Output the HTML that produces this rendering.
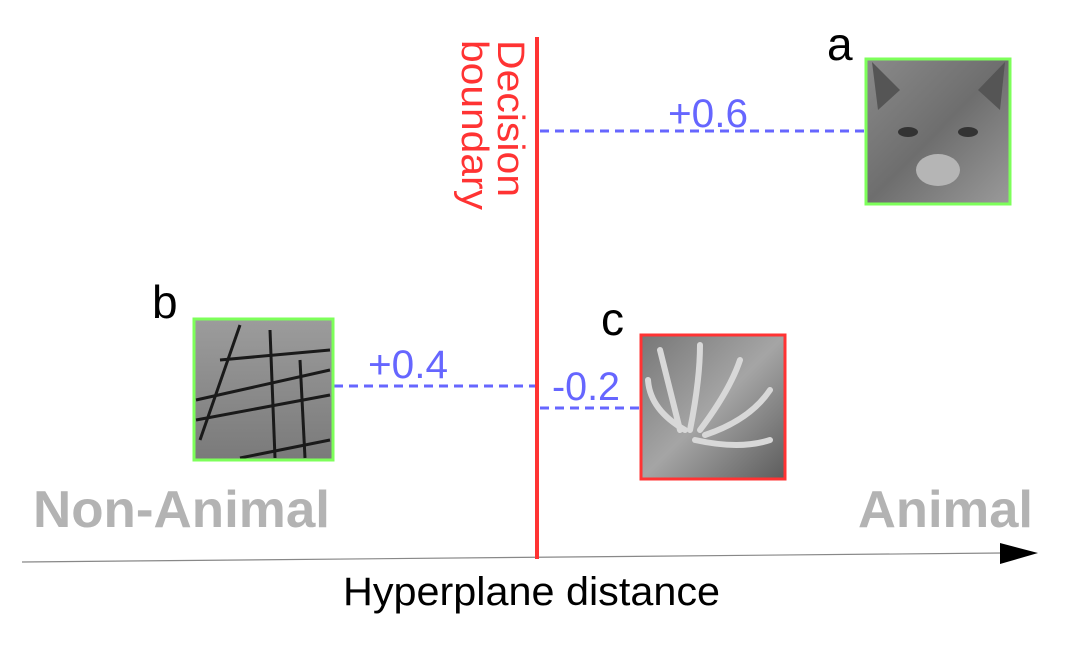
<!DOCTYPE html>
<html>
<head>
<meta charset="utf-8">
<style>
  html,body{margin:0;padding:0;background:#fff;}
  svg{display:block;}
  text{font-family:"Liberation Sans",sans-serif;}
</style>
</head>
<body>
<svg width="1076" height="648" viewBox="0 0 1076 648">
  <defs>
    <linearGradient id="gA" x1="0" y1="0" x2="1" y2="1">
      <stop offset="0" stop-color="#8a8a8a"/><stop offset="0.5" stop-color="#6e6e6e"/><stop offset="1" stop-color="#9a9a9a"/>
    </linearGradient>
    <linearGradient id="gB" x1="0" y1="0" x2="0" y2="1">
      <stop offset="0" stop-color="#9c9c9c"/><stop offset="1" stop-color="#7a7a7a"/>
    </linearGradient>
    <linearGradient id="gC" x1="0" y1="0" x2="1" y2="1">
      <stop offset="0" stop-color="#777"/><stop offset="0.5" stop-color="#a5a5a5"/><stop offset="1" stop-color="#5c5c5c"/>
    </linearGradient>
  </defs>

  <line x1="22" y1="562" x2="1002" y2="553" stroke="#888" stroke-width="1.2"/>
  <polygon points="1000,543 1038,553 1000,564" fill="#000"/>
  <text x="343" y="605" font-size="40" textLength="377" lengthAdjust="spacingAndGlyphs" fill="#000">Hyperplane distance</text>

  <text x="33" y="527" font-size="52" font-weight="bold" textLength="297" lengthAdjust="spacingAndGlyphs" fill="#b3b3b3">Non-Animal</text>
  <text x="858" y="527" font-size="52" font-weight="bold" textLength="175" lengthAdjust="spacingAndGlyphs" fill="#b3b3b3">Animal</text>

  <line x1="537" y1="37" x2="537" y2="559" stroke="#ff3333" stroke-width="4"/>
  <g transform="translate(498,40) rotate(90)">
    <text x="0" y="0" font-size="38" textLength="157" lengthAdjust="spacingAndGlyphs" fill="#ff3333">Decision</text>
    <text x="0" y="36" font-size="38" textLength="170" lengthAdjust="spacingAndGlyphs" fill="#ff3333">boundary</text>
  </g>

  <line x1="540" y1="131" x2="865" y2="131" stroke="#6666ff" stroke-width="3" stroke-dasharray="9,6"/>
  <text x="668" y="127" font-size="40" textLength="80" lengthAdjust="spacingAndGlyphs" fill="#6666ff">+0.6</text>
  <line x1="334" y1="386" x2="535" y2="386" stroke="#6666ff" stroke-width="3" stroke-dasharray="9,6"/>
  <text x="368" y="378" font-size="40" textLength="80" lengthAdjust="spacingAndGlyphs" fill="#6666ff">+0.4</text>
  <line x1="540" y1="408" x2="640" y2="408" stroke="#6666ff" stroke-width="3" stroke-dasharray="9,6"/>
  <text x="552" y="400" font-size="40" textLength="68" lengthAdjust="spacingAndGlyphs" fill="#6666ff">-0.2</text>

  <g>
    <rect x="866" y="59" width="144" height="145" fill="url(#gA)"/>
    <polygon points="872,62 900,90 878,110" fill="#555"/>
    <polygon points="1005,62 978,90 1000,110" fill="#555"/>
    <ellipse cx="908" cy="132" rx="10" ry="5" fill="#333"/>
    <ellipse cx="968" cy="132" rx="10" ry="5" fill="#333"/>
    <ellipse cx="938" cy="170" rx="22" ry="16" fill="#b5b5b5"/>
    <rect x="866" y="59" width="144" height="145" fill="none" stroke="#7dff5a" stroke-width="3"/>
  </g>
  <text x="827" y="60" font-size="46" fill="#000">a</text>

  <g>
    <rect x="194" y="319" width="139" height="141" fill="url(#gB)"/>
    <g stroke="#1a1a1a" stroke-width="3">
      <line x1="200" y1="440" x2="240" y2="325"/>
      <line x1="196" y1="400" x2="330" y2="370"/>
      <line x1="196" y1="420" x2="330" y2="395"/>
      <line x1="220" y1="360" x2="330" y2="350"/>
      <line x1="270" y1="330" x2="275" y2="458"/>
      <line x1="300" y1="360" x2="305" y2="458"/>
      <line x1="240" y1="458" x2="330" y2="440"/>
    </g>
    <rect x="194" y="319" width="139" height="141" fill="none" stroke="#7dff5a" stroke-width="3"/>
  </g>
  <text x="152" y="318" font-size="46" fill="#000">b</text>

  <g>
    <rect x="641" y="335" width="144" height="144" fill="url(#gC)"/>
    <g stroke="#d8d8d8" stroke-width="6" fill="none" stroke-linecap="round">
      <path d="M680,430 Q670,390 660,350"/>
      <path d="M690,430 Q700,380 700,345"/>
      <path d="M700,430 Q730,390 740,360"/>
      <path d="M705,435 Q750,420 770,390"/>
      <path d="M695,440 Q740,450 770,440"/>
      <path d="M685,430 Q650,410 648,380"/>
    </g>
    <rect x="641" y="335" width="144" height="144" fill="none" stroke="#ff3333" stroke-width="3"/>
  </g>
  <text x="601" y="335" font-size="46" fill="#000">c</text>
</svg>
</body>
</html>
